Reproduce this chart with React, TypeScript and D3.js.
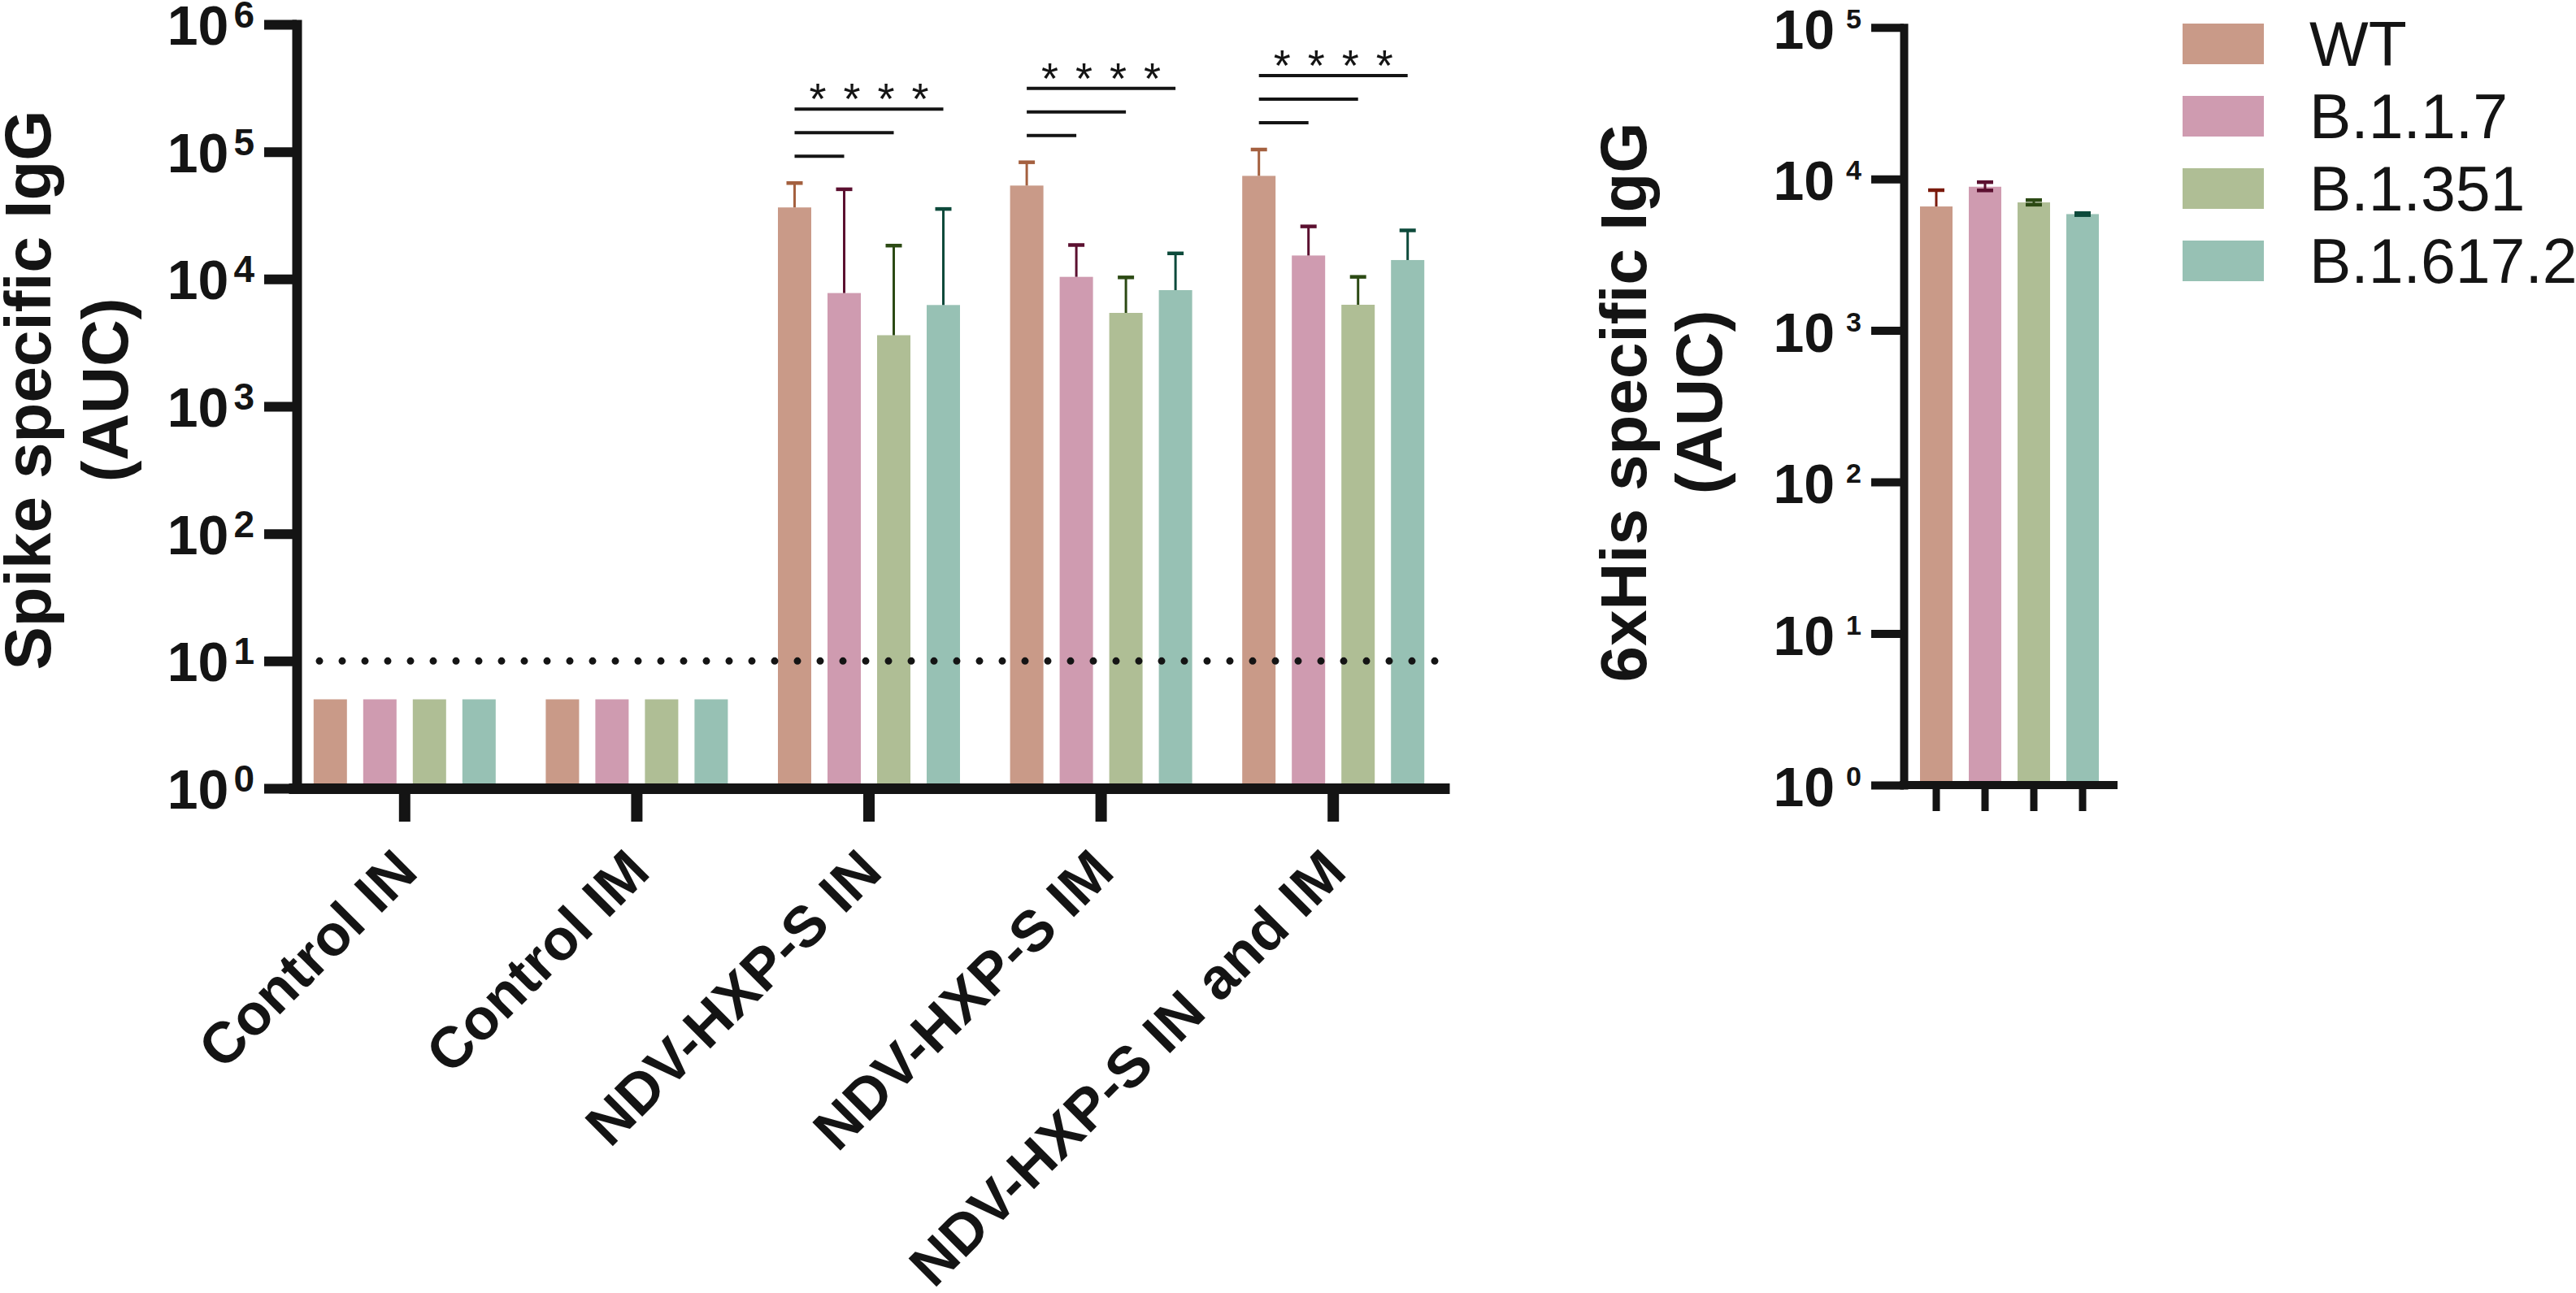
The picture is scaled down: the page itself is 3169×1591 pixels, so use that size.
import { useRef, useEffect } from 'react'
import * as d3 from 'd3';

// groups on the spike panel
const groups = ["Control IN", "Control IM", "NDV-HXP-S IN", "NDV-HXP-S IM", "NDV-HXP-S IN and IM"];
const variants = ["WT", "B.1.1.7", "B.1.351", "B.1.617.2"];

const variantFill = ["#c99a88", "#cf9bb0", "#afbe95", "#97c1b4"];
const spikeErrStroke = ["#a4603f", "#5b1030", "#2c4a14", "#0d4a3b"];
const hisErrStroke = ["#7a1a0c", "#5b1030", "#2c4a14", "#0d4a3b"];

// spike specific IgG (AUC), mean and top of error bar, per variant
const wtSpike = [5, 5, 36500, 54200, 64600];
const wtSpikeErr = [null, null, 56700, 82600, 104000];
const b117Spike = [5, 5, 7760, 10400, 15300];
const b117SpikeErr = [null, null, 50700, 18500, 25900];
const b1351Spike = [5, 5, 3620, 5420, 6280];
const b1351SpikeErr = [null, null, 18300, 10300, 10400];
const b16172Spike = [5, 5, 6250, 8180, 14100];
const b16172SpikeErr = [null, null, 35500, 15900, 24100];

// 6xHis specific IgG (AUC), one bar per variant
const hisMean = [6580, 8880, 7000, 5860];
const hisUpper = [8430, 9520, 7250, 5950];
const hisLower = [null, 8400, 6760, 5770];

const spikeTicks = [1, 10, 100, 1e3, 1e4, 1e5, 1e6];
const hisTicks = [1, 10, 100, 1e3, 1e4, 1e5];
const detectionLimit = 10;

// WT compared with every other variant in these groups
const sigGroups = ["NDV-HXP-S IN", "NDV-HXP-S IM", "NDV-HXP-S IN and IM"];
const sigStars = ["*", "*", "*", "*"];

const spikeMeans = [wtSpike, b117Spike, b1351Spike, b16172Spike];
const spikeErrs = [wtSpikeErr, b117SpikeErr, b1351SpikeErr, b16172SpikeErr];

function App() {

    const d3Container = useRef(null);

    const width = 3169;
    const height = 1591;

    useEffect(() => {

        const font = "'Liberation Sans', Arial, Helvetica, sans-serif";
        const ink = "#141414";

        const svg = d3.select(d3Container.current);
        svg.selectAll("*").remove();
        svg.attr("font-family", font);

        // ---------- left panel : spike ----------
        const y = d3.scaleLog()
                    .domain([1, 1e6])
                    .range([970, 30]);

        const x0 = d3.scaleBand()
                     .domain(groups)
                     .range([355, 1783]);

        const x1 = d3.scaleBand()
                     .domain(variants)
                     .range([-112, 112])
                     .paddingInner(20 / 61);

        const barX = (g, v) => x0(g) + x0.bandwidth() / 2 + x1(v);
        const barMid = (g, v) => barX(g, v) + x1.bandwidth() / 2;

        const rows = [];
        groups.forEach((g, gi) => {
            variants.forEach((v, vi) => {
                rows.push({ g, v, vi, value: spikeMeans[vi][gi], err: spikeErrs[vi][gi] });
            });
        });

        svg.append("g")
           .selectAll()
           .data(rows)
           .join("rect")
           .attr("x", (d) => barX(d.g, d.v))
           .attr("width", x1.bandwidth())
           .attr("y", (d) => y(d.value))
           .attr("height", (d) => y(1) - y(d.value))
           .attr("fill", (d) => variantFill[d.vi]);

        const errRows = rows.filter((d) => d.err != null);
        const errG = svg.append("g");
        errG.selectAll()
            .data(errRows)
            .join("line")
            .attr("x1", (d) => barMid(d.g, d.v))
            .attr("x2", (d) => barMid(d.g, d.v))
            .attr("y1", (d) => y(d.value))
            .attr("y2", (d) => y(d.err))
            .attr("stroke", (d) => spikeErrStroke[d.vi])
            .attr("stroke-width", 3);
        errG.selectAll()
            .data(errRows)
            .join("line")
            .attr("class", "cap")
            .attr("x1", (d) => barMid(d.g, d.v) - 10)
            .attr("x2", (d) => barMid(d.g, d.v) + 10)
            .attr("y1", (d) => y(d.err))
            .attr("y2", (d) => y(d.err))
            .attr("stroke", (d) => spikeErrStroke[d.vi])
            .attr("stroke-width", 4.5);

        // limit of detection
        svg.append("line")
           .attr("x1", 393)
           .attr("x2", 1776)
           .attr("y1", y(detectionLimit))
           .attr("y2", y(detectionLimit))
           .attr("stroke", ink)
           .attr("stroke-width", 9)
           .attr("stroke-linecap", "round")
           .attr("stroke-dasharray", "0 28");

        // significance brackets: WT vs each variant
        const sigG = svg.append("g");
        sigGroups.forEach((g) => {
            const gi = groups.indexOf(g);
            const base = y(wtSpikeErr[gi]) - 33;
            const xa = barMid(g, variants[0]);
            variants.slice(1).forEach((v, k) => {
                sigG.append("line")
                    .attr("x1", xa)
                    .attr("x2", barMid(g, v))
                    .attr("y1", base - k * 29)
                    .attr("y2", base - k * 29)
                    .attr("stroke", ink)
                    .attr("stroke-width", 4);
            });
            const topY = base - 2 * 29;
            const cx = (xa + barMid(g, variants[3])) / 2;
            sigStars.forEach((s, k) => {
                sigG.append("text")
                    .attr("x", cx + (k - 1.5) * 42)
                    .attr("y", topY + 6)
                    .attr("text-anchor", "middle")
                    .attr("font-size", 54)
                    .attr("fill", ink)
                    .text(s);
            });
        });

        // y axis
        const yAxis = d3.axisLeft(y).tickValues(spikeTicks).tickSize(40).tickSizeOuter(0).tickFormat(() => "");
        const gy = svg.append("g")
                      .attr("transform", "translate(365,0)")
                      .call(yAxis);
        gy.selectAll("line").attr("stroke", ink).attr("stroke-width", 12);
        gy.select(".domain").attr("stroke", ink).attr("stroke-width", 12).attr("stroke-linecap", "square");

        svg.append("g")
           .selectAll()
           .data(spikeTicks)
           .join("text")
           .attr("x", 313)
           .attr("y", (d) => y(d) + 25)
           .attr("text-anchor", "end")
           .attr("font-weight", "bold")
           .attr("fill", ink)
           .call((t) => t.append("tspan").attr("font-size", 68).text("10"))
           .call((t) => t.append("tspan")
                         .attr("font-size", 46)
                         .attr("dx", 6)
                         .attr("dy", -21)
                         .text((d) => Math.round(Math.log10(d))));

        // x axis
        const xAxis = d3.axisBottom(x0).tickSize(41).tickSizeOuter(0).tickFormat(() => "");
        const gx = svg.append("g")
                      .attr("transform", `translate(0,${y(1)})`)
                      .call(xAxis);
        gx.selectAll("line").attr("stroke", ink).attr("stroke-width", 14);
        gx.select(".domain").attr("stroke", ink).attr("stroke-width", 13);

        svg.append("g")
           .selectAll()
           .data(groups)
           .join("text")
           .attr("transform", (d) => `translate(${x0(d) + x0.bandwidth() / 2 + 19},1076) rotate(-45)`)
           .attr("text-anchor", "end")
           .attr("font-size", 71)
           .attr("font-weight", "bold")
           .attr("fill", ink)
           .text((d) => d);

        // y title
        svg.append("text")
           .attr("transform", "translate(62,480) rotate(-90)")
           .attr("text-anchor", "middle")
           .attr("font-size", 80)
           .attr("font-weight", "bold")
           .attr("fill", ink)
           .text("Spike specific IgG");
        svg.append("text")
           .attr("transform", "translate(157,480) rotate(-90)")
           .attr("text-anchor", "middle")
           .attr("font-size", 80)
           .attr("font-weight", "bold")
           .attr("fill", ink)
           .text("(AUC)");

        // ---------- right panel : 6xHis ----------
        const yH = d3.scaleLog()
                     .domain([1, 1e5])
                     .range([966, 33.7]);

        const xH = d3.scaleBand()
                     .domain(variants)
                     .range([2362, 2582])
                     .paddingInner(1 / 3);

        const hisRows = variants.map((v, vi) => ({
            v, vi, value: hisMean[vi], hi: hisUpper[vi], lo: hisLower[vi]
        }));
        const hMid = (v) => xH(v) + xH.bandwidth() / 2;

        svg.append("g")
           .selectAll()
           .data(hisRows)
           .join("rect")
           .attr("x", (d) => xH(d.v))
           .attr("width", xH.bandwidth())
           .attr("y", (d) => yH(d.value))
           .attr("height", (d) => yH(1) - yH(d.value))
           .attr("fill", (d) => variantFill[d.vi]);

        const hErr = svg.append("g");
        hErr.selectAll()
            .data(hisRows)
            .join("line")
            .attr("x1", (d) => hMid(d.v))
            .attr("x2", (d) => hMid(d.v))
            .attr("y1", (d) => yH(d.lo ?? d.value))
            .attr("y2", (d) => yH(d.hi))
            .attr("stroke", (d) => hisErrStroke[d.vi])
            .attr("stroke-width", 3);
        const capData = [];
        hisRows.forEach((d) => {
            capData.push({ d, val: d.hi });
            if (d.lo != null) capData.push({ d, val: d.lo });
        });
        hErr.selectAll()
            .data(capData)
            .join("line")
            .attr("x1", (c) => hMid(c.d.v) - 10)
            .attr("x2", (c) => hMid(c.d.v) + 10)
            .attr("y1", (c) => yH(c.val))
            .attr("y2", (c) => yH(c.val))
            .attr("stroke", (c) => hisErrStroke[c.d.vi])
            .attr("stroke-width", 4.5);

        const hyAxis = d3.axisLeft(yH).tickValues(hisTicks).tickSize(40).tickSizeOuter(0).tickFormat(() => "");
        const ghy = svg.append("g")
                       .attr("transform", "translate(2342,0)")
                       .call(hyAxis);
        ghy.selectAll("line").attr("stroke", ink).attr("stroke-width", 10);
        ghy.select(".domain").attr("stroke", ink).attr("stroke-width", 10).attr("stroke-linecap", "square");

        svg.append("g")
           .selectAll()
           .data(hisTicks)
           .join("text")
           .attr("x", 2290)
           .attr("y", (d) => yH(d) + 26)
           .attr("text-anchor", "end")
           .attr("font-weight", "bold")
           .attr("fill", ink)
           .call((t) => t.append("tspan").attr("font-size", 68).text("10"))
           .call((t) => t.append("tspan")
                         .attr("font-size", 34)
                         .attr("dx", 14)
                         .attr("dy", -25)
                         .text((d) => Math.round(Math.log10(d))));

        const hxAxis = d3.axisBottom(xH).tickSize(32).tickSizeOuter(0).tickFormat(() => "");
        const ghx = svg.append("g")
                       .attr("transform", `translate(0,${yH(1)})`)
                       .call(hxAxis);
        ghx.selectAll("line").attr("stroke", ink).attr("stroke-width", 9);
        ghx.select(".domain").remove();
        ghx.append("line")
           .attr("x1", 2337)
           .attr("x2", 2605)
           .attr("stroke", ink)
           .attr("stroke-width", 10);

        svg.append("text")
           .attr("transform", "translate(2025,495) rotate(-90)")
           .attr("text-anchor", "middle")
           .attr("font-size", 80)
           .attr("font-weight", "bold")
           .attr("fill", ink)
           .text("6xHis specific IgG");
        svg.append("text")
           .attr("transform", "translate(2118,495) rotate(-90)")
           .attr("text-anchor", "middle")
           .attr("font-size", 80)
           .attr("font-weight", "bold")
           .attr("fill", ink)
           .text("(AUC)");

        // legend
        const legend = svg.append("g")
                          .selectAll()
                          .data(variants)
                          .join("g")
                          .attr("transform", (d, i) => `translate(2685,${29 + i * 89})`);
        legend.append("rect")
              .attr("width", 100)
              .attr("height", 50)
              .attr("fill", (d, i) => variantFill[i]);
        legend.append("text")
              .attr("x", 156)
              .attr("y", 25 + 27)
              .attr("font-size", 77)
              .attr("fill", ink)
              .text((d) => d);

    }, []);

    return (
        <>
            <svg ref={d3Container}
                 width={width}
                 height={height}
                 style={{ position: "absolute", left: 0, top: 0, background: "#fff" }} />
        </>
    )
}

export default App;
